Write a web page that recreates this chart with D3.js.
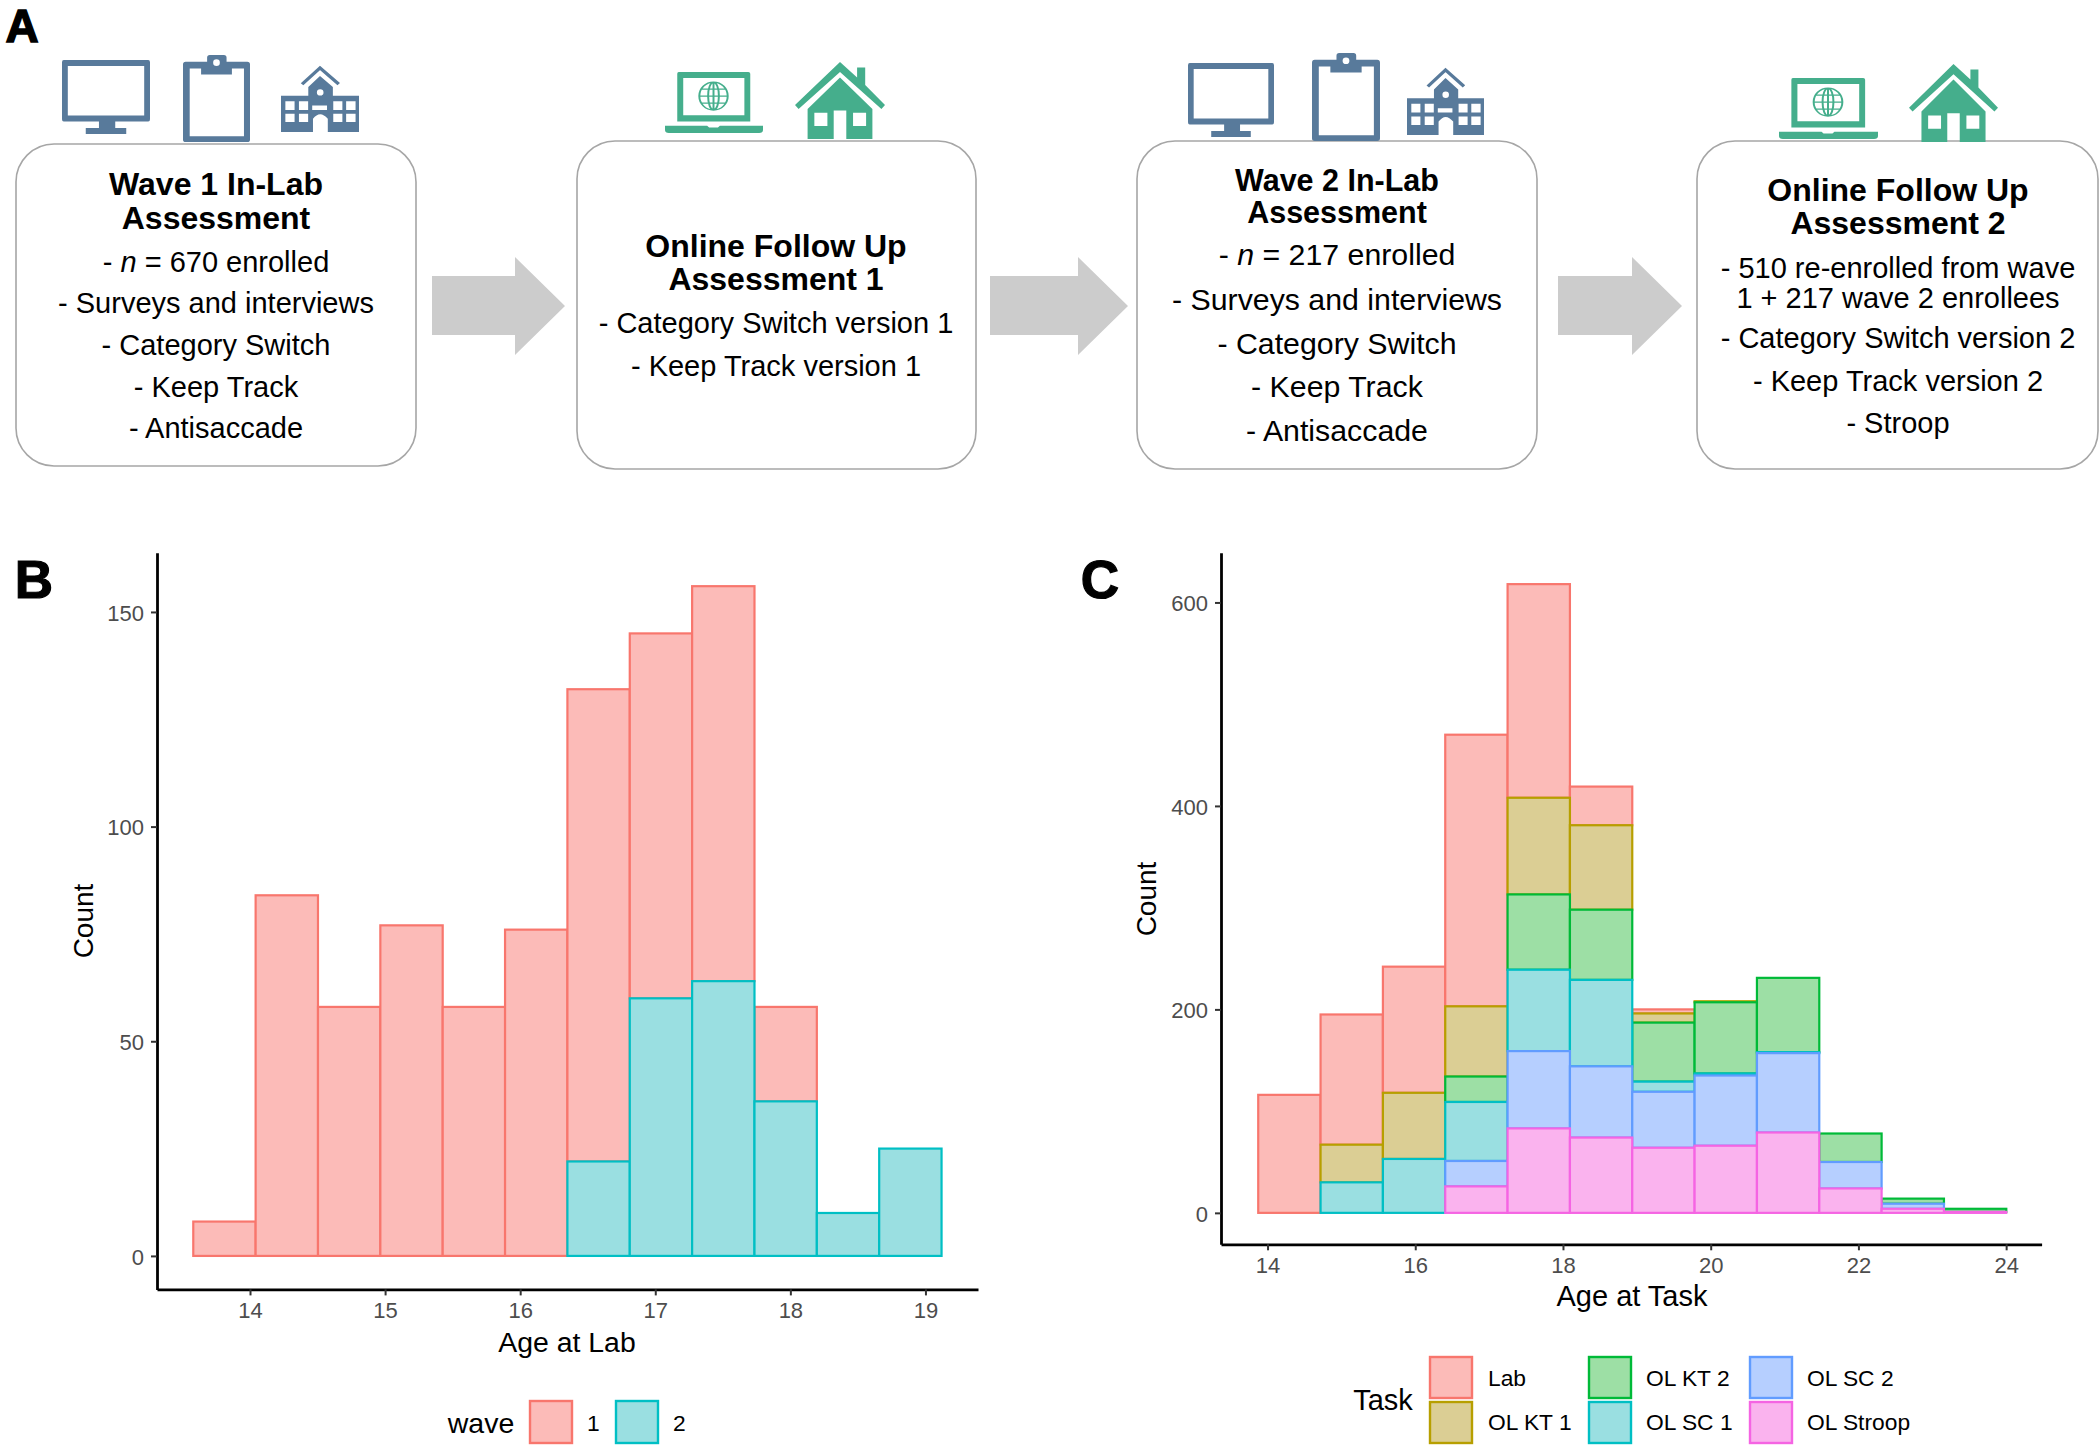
<!DOCTYPE html>
<html><head><meta charset="utf-8">
<script src="https://d3js.org/d3.v7.min.js"></script>
<style>
html,body{margin:0;padding:0;background:#fff}
text{font-family:"Liberation Sans",Arial,sans-serif}
</style></head><body><svg id="c" width="2100" height="1446" xmlns="http://www.w3.org/2000/svg"></svg>
<script>
// ---------- data ----------
const waveKeys = ["1","2"];
const wave1 = [8,84,58,77,58,76,110,85,92,22,0,0];
const wave2 = [0,0,0,0,0,0,22,60,64,36,10,25];
const binStartB = 13.58, binWidthB = 0.4616;
const ticksBx = [14,15,16,17,18,19];
const ticksBy = [0,50,100,150];

const taskKeys = ["Lab","OL KT 1","OL KT 2","OL SC 1","OL SC 2","OL Stroop"];
const lab     = [116,128,124,267,210,38,4,0,0,0,0,0];
const olKt1   = [0,37,65,69,95,83,9,1,0,0,0,0];
const olKt2   = [0,0,0,25,74,69,58,70,73,28,5,3];
const olSc1   = [0,30,53,58,80,85,10,2,1,0,0,0];
const olSc2   = [0,0,0,25,76,70,55,69,78,26,5,0];
const olStroop= [0,0,0,26,83,74,64,66,79,24,4,1];
const binStartC = 13.874, binWidthC = 0.844;
const ticksCx = [14,16,18,20,22,24];
const ticksCy = [0,200,400,600];

const box1Title = ["Wave 1 In-Lab","Assessment"];
const box1Lines = [["- ","n"," = 670 enrolled"],"- Surveys and interviews","- Category Switch","- Keep Track","- Antisaccade"];
const box2Title = ["Online Follow Up","Assessment 1"];
const box2Lines = ["- Category Switch version 1","- Keep Track version 1"];
const box3Title = ["Wave 2 In-Lab","Assessment"];
const box3Lines = [["- ","n"," = 217 enrolled"],"- Surveys and interviews","- Category Switch","- Keep Track","- Antisaccade"];
const box4Title = ["Online Follow Up","Assessment 2"];
const box4Lines = ["- 510 re-enrolled from wave","1 + 217 wave 2 enrollees","- Category Switch version 2","- Keep Track version 2","- Stroop"];

// ---------- drawing ----------
const svg = d3.select("#c");
const hue = {"1":"#F8766D","2":"#00BFC4","Lab":"#F8766D","OL KT 1":"#B79F00","OL KT 2":"#00BA38","OL SC 1":"#00BFC4","OL SC 2":"#619CFF","OL Stroop":"#F564E3"};
const tint = {"1":"#FCBBB8","2":"#9ADFE1","Lab":"#FCBBB8","OL KT 1":"#DBCE94","OL KT 2":"#9DDFA5","OL SC 1":"#9ADFE1","OL SC 2":"#B6CFFF","OL Stroop":"#FAB3EE"};
const BLUE="#587A9B", GREEN="#45AE8C";

function label(t,x,y,size,opts={}){
  const n=svg.append("text").attr("x",x).attr("y",y).attr("font-size",size)
    .attr("text-anchor",opts.anchor||"middle").attr("dominant-baseline","central")
    .attr("fill",opts.fill||"#000").attr("font-weight",opts.bold?"bold":"normal");
  if(opts.transform) n.attr("transform",opts.transform);
  if(Array.isArray(t)){
    t.forEach((s,i)=>n.append("tspan").attr("font-style",i===1?"italic":"normal").text(s));
  } else n.text(t);
  return n;
}
// panel letters
label("A",22,26,46,{bold:true}).attr("stroke","#000").attr("stroke-width",1.4);
label("B",34,579,53,{bold:true}).attr("stroke","#000").attr("stroke-width",1.2);
label("C",1100,579,53,{bold:true}).attr("stroke","#000").attr("stroke-width",1.2);

// boxes
const boxes=[
 {x:16,y:144,w:400,h:322,cx:216,ts:32,ls:29,title:box1Title,lines:box1Lines,ty:[184,218],ly:[262,303,345,387,428]},
 {x:577,y:141,w:399,h:328,cx:776,ts:32,ls:29,title:box2Title,lines:box2Lines,ty:[246,279],ly:[323,366]},
 {x:1137,y:141,w:400,h:328,cx:1337,ts:30.5,ls:30.3,title:box3Title,lines:box3Lines,ty:[180,212],ly:[254,299,343,386,430]},
 {x:1697,y:141,w:401,h:328,cx:1898,ts:32,ls:29,title:box4Title,lines:box4Lines,ty:[190,223],ly:[268,298,338,381,423]}
];
boxes.forEach(b=>{
  svg.append("rect").attr("x",b.x).attr("y",b.y).attr("width",b.w).attr("height",b.h).attr("rx",38).attr("ry",38)
    .attr("fill","#fff").attr("stroke","#A6A6A6").attr("stroke-width",1.6);
  b.title.forEach((t,i)=>label(t,b.cx,b.ty[i],b.ts,{bold:true}));
  b.lines.forEach((t,i)=>label(t,b.cx,b.ly[i],b.ls));
});
// arrows
[[432,515,565],[990,1078,1128],[1558,1632,1682]].forEach(([a,b,c])=>{
  svg.append("path").attr("fill","#CCCCCC")
    .attr("d",`M${a},276H${b}V257L${c},306L${b},355V335H${a}Z`);
});

// icons (drawn in a 100x100 unit box, stretched into place)
function iconG(x0,y0,x1,y1){
  return svg.append("g").attr("transform",`translate(${x0},${y0}) scale(${(x1-x0)/100},${(y1-y0)/100})`);
}
function monitor(x0,y0,x1,y1){
  const g=iconG(x0,y0,x1,y1);
  g.append("path").attr("fill",BLUE).attr("fill-rule","evenodd")
   .attr("d","M2,0H98Q100,0 100,3V80Q100,83 98,83H60.5V92H73V100H27V92H42V83H2Q0,83 0,80V3Q0,0 2,0ZM6.6,8V75H93.4V8Z");
}
function clipboard(x0,y0,x1,y1){
  const g=iconG(x0,y0,x1,y1);
  g.append("path").attr("fill",BLUE).attr("fill-rule","evenodd")
   .attr("d","M4,7.7H36V3Q36,0 40,0H61Q65,0 65,3V7.7H96Q100,7.7 100,11V97Q100,100 96,100H4Q0,100 0,97V11Q0,7.7 4,7.7Z"
    +"M10,15.4V93.5H91V15.4H73V22.3H27V15.4ZM45,8.8A5,3.8 0 1,0 55,8.8A5,3.8 0 1,0 45,8.8Z");
}
function school(x0,y0,x1,y1){
  const g=iconG(x0,y0,x1,y1);
  g.append("path").attr("fill",BLUE).attr("fill-rule","evenodd")
   .attr("d","M0,45H35V32L50,15L66.5,32V45H100V100H60V80Q50,66 41,80V100H0Z"
     +"M5.6,53.5V66.5H17.4V53.5ZM23,53.5V66.5H34.8V53.5ZM67,53.5V66.5H78.7V53.5ZM83.5,53.5V66.5H95.6V53.5Z"
     +"M5.6,72.5V85H17.4V72.5ZM23,72.5V85H34.8V72.5ZM67,72.5V85H78.7V72.5ZM83.5,72.5V85H95.6V72.5Z"
     +"M40,60V66.5H59V60ZM46,40A4,4.5 0 1,0 54.5,40A4,4.5 0 1,0 46,40Z");
  g.append("path").attr("fill","none").attr("stroke",BLUE).attr("stroke-width",4.5)
   .attr("d","M27,27.5L50,3L74,27.5");
}
function laptop(x0,y0,x1,y1){
  const g=iconG(x0,y0,x1,y1);
  g.append("path").attr("fill",GREEN).attr("fill-rule","evenodd")
   .attr("d","M14,0H85Q87,0 87,3V81H12.5V3Q12.5,0 14,0ZM18.6,10V71H81V10Z");
  g.append("path").attr("fill",GREEN)
   .attr("d","M0,88H43L45,91H54L56,88H100V95Q100,100 96,100H4Q0,100 0,95Z");
  g.append("path").attr("fill","none").attr("stroke",GREEN).attr("stroke-width",2)
   .attr("d","M35,39.5A14.5,23 0 1,0 64,39.5A14.5,23 0 1,0 35,39.5ZM44,39.5A5.5,23 0 1,0 55,39.5A5.5,23 0 1,0 44,39.5ZM49.5,16.5V62.5M37,28H62M37,51H62M35,39.5H64");
}
function house(x0,y0,x1,y1){
  const g=iconG(x0,y0,x1,y1);
  g.append("path").attr("fill",GREEN).attr("fill-rule","evenodd")
   .attr("d","M50,20L86,61V100H57V63H43V100H14V61Z"
     +"M21.5,66V83H36V66ZM64.5,66V83H79V66Z");
  g.append("path").attr("fill",GREEN)
   .attr("d","M50,0L69,20V7H78V30L100,56L96,61L50,13L4,61L0,56Z");
}
monitor(62,60,150,134);clipboard(183,55,250,142);school(281,66,359,132);
laptop(665,72,763,133);house(795,62,885,139);
monitor(1188,63,1274,137);clipboard(1312,53,1380,141);school(1407,68,1484,135);
laptop(1779,78,1878,139);house(1909,64,1998,142);

// histograms
function panel(o){
  const n=o.series[0].length;
  const rows=d3.range(n).map(i=>{const r={i};o.keys.forEach((k,j)=>r[k]=o.series[j][i]);return r;});
  const stack=d3.stack().keys(o.keys.slice().reverse())(rows);
  const total=d3.max(rows,r=>d3.sum(o.keys,k=>r[k]));
  const x=d3.scaleLinear().domain(o.xDomain).range(o.xr);
  const y=d3.scaleLinear().domain([-total*.05,total*1.05]).range(o.yr);
  // Top of the stack first, so the lower groups' outlines lie on top
  stack.slice().reverse().forEach(s=>{
    svg.append("g").selectAll("rect").data(s).join("rect")
      .attr("x",d=>x(o.start+d.data.i*o.width))
      .attr("width",d=>x(o.start+(d.data.i+1)*o.width)-x(o.start+d.data.i*o.width))
      .attr("y",d=>y(d[1])).attr("height",d=>y(d[0])-y(d[1]))
      .attr("fill",tint[s.key])
      .attr("stroke",hue[s.key]).attr("stroke-width",2.2);
  });
  const ax=svg.append("g").attr("transform",`translate(0,${o.yr[0]})`)
    .call(d3.axisBottom(x).tickValues(o.xt).tickFormat(d3.format("d")).tickSizeInner(6).tickSizeOuter(0).tickPadding(7));
  const ay=svg.append("g").attr("transform",`translate(${o.xr[0]},0)`)
    .call(d3.axisLeft(y).tickValues(o.yt).tickFormat(d3.format("d")).tickSizeInner(6).tickSizeOuter(0).tickPadding(7));
  [ax,ay].forEach(a=>{
    a.select(".domain").attr("stroke","#000").attr("stroke-width",2.8);
    a.selectAll(".tick line").attr("stroke","#333").attr("stroke-width",2);
    a.selectAll(".tick text").attr("fill","#4D4D4D").attr("font-size",22)
      .attr("font-family",'"Liberation Sans",Arial,sans-serif');
  });
  ay.selectAll(".tick text").attr("dy","0.38em");
  label(o.xTitle,o.xTitlePos[0],o.xTitlePos[1],o.xts);
  label("Count",o.yTitlePos[0],o.yTitlePos[1],28,{transform:`rotate(-90 ${o.yTitlePos[0]} ${o.yTitlePos[1]})`});
}
panel({keys:waveKeys,series:[wave1,wave2],start:binStartB,width:binWidthB,
  xDomain:[13.3115,19.389],xr:[157,978],yr:[1289.4,552.7],
  xt:ticksBx,yt:ticksBy,xTitle:"Age at Lab",xts:28.4,xTitlePos:[567,1342],yTitlePos:[83,921]});
panel({keys:taskKeys,series:[lab,olKt1,olKt2,olSc1,olSc2,olStroop],start:binStartC,width:binWidthC,
  xDomain:[13.37,24.48],xr:[1221,2041.6],yr:[1244.3,552.7],
  xt:ticksCx,yt:ticksCy,xTitle:"Age at Task",xts:29,xTitlePos:[1632,1296],yTitlePos:[1146,899]});

// legends
function swatch(k,x,y,w,h,tx,ty){
  svg.append("rect").attr("x",x).attr("y",y).attr("width",w).attr("height",h)
    .attr("fill",tint[k]).attr("stroke",hue[k]).attr("stroke-width",2.4);
  label(k,tx,ty,22.8,{anchor:"start"});
}
label("wave",481,1423,28.5);
swatch("1",530,1401,42,42,587,1423);
swatch("2",616,1401,42,42,673,1423);
label("Task",1383,1400,29);
const lx=[[1430,1488],[1589,1646],[1750,1807]], ly=[[1357,1378],[1402,1422]];
taskKeys.forEach((k,i)=>{
  const row=i%2, c=Math.floor(i/2);
  swatch(k,lx[c][0],ly[row][0],42,41,lx[c][1],ly[row][1]);
});
</script></body></html>
